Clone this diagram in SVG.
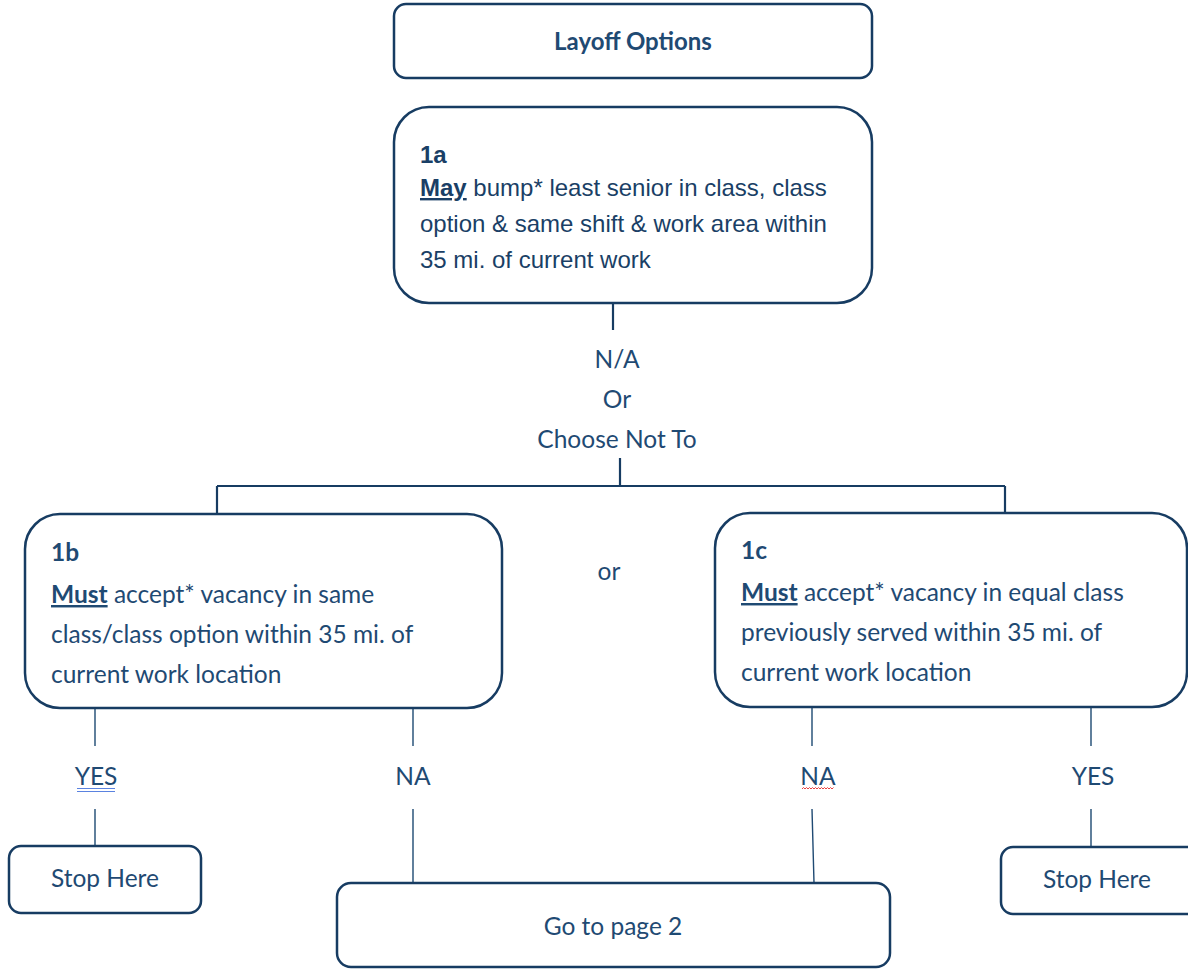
<svg xmlns="http://www.w3.org/2000/svg" width="1188" height="969" viewBox="0 0 1188 969">
<style>
.box{fill:#fff;stroke:#173c62;stroke-width:2.5}
.c{fill:none;stroke:#173c62;stroke-width:2.2}
.t{fill:none;stroke:#1f4a73;stroke-width:1.4}
.cal{font-family:Lato,"Open Sans",sans-serif;font-size:24.5px;fill:#1f4a73}
.ar{font-family:"Liberation Sans",Arial,sans-serif;font-size:24px;fill:#1a3f66}
.b{font-weight:bold}
.u{text-decoration:underline}
.m{text-anchor:middle}
</style>
<rect width="1188" height="969" fill="#fff"/>
<g id="connectors">
<path class="c" d="M613 303V330"/>
<path class="c" d="M620 458V486M217 486H1005M217 486V514M1005 486V514"/>
<path class="t" d="M95 708V746M95 809V846"/>
<path class="t" d="M413 708V746M413 809V883"/>
<path class="t" d="M812 707V746M812 809L814 883"/>
<path class="t" d="M1091 707V746M1091 809V847"/>
</g>
<g id="labels">
<text class="cal m" x="617" y="368">N/A</text>
<text class="cal m" x="617" y="408">Or</text>
<text class="cal m" x="617" y="448">Choose Not To</text>
<text class="cal m" x="609" y="580">or</text>
<text class="cal m" x="96" y="785">YES</text>
<path d="M77 788.5H115M77 791.5H115" stroke="#5a82e0" stroke-width="1" fill="none"/>
<text class="cal m" x="413" y="785">NA</text>
<text class="cal m" x="818" y="785">NA</text>
<path d="M802 789l1.5 -1.5l1.5 1.5l1.5 -1.5l1.5 1.5l1.5 -1.5l1.5 1.5l1.5 -1.5l1.5 1.5l1.5 -1.5l1.5 1.5l1.5 -1.5l1.5 1.5l1.5 -1.5l1.5 1.5l1.5 -1.5l1.5 1.5l1.5 -1.5l1.5 1.5l1.5 -1.5l1.5 1.5l1.5 -1.5" stroke="#e84040" stroke-width="1" fill="none"/>
<text class="cal m" x="1093" y="785">YES</text>
</g>
<g id="title">
<rect class="box" x="394" y="4" width="478" height="74" rx="12"/>
<text class="cal b m" x="633" y="50" style="font-size:24px">Layoff Options</text>
</g>
<g id="n1a">
<rect class="box" x="394" y="107" width="478" height="196" rx="35"/>
<text class="ar b" x="420" y="163">1a</text>
<text class="ar" x="420" y="196"><tspan class="b u">May</tspan> bump* least senior in class, class</text>
<text class="ar" x="420" y="232">option &amp; same shift &amp; work area within</text>
<text class="ar" x="420" y="268">35 mi. of current work</text>
</g>
<g id="n1b">
<rect class="box" x="25" y="514" width="477" height="194" rx="35"/>
<text class="cal b" x="51" y="561">1b</text>
<text class="cal" x="51" y="603"><tspan class="b u">Must</tspan> accept* vacancy in same</text>
<text class="cal" x="51" y="643">class/class option within 35 mi. of</text>
<text class="cal" x="51" y="683">current work location</text>
</g>
<g id="n1c">
<rect class="box" x="715" y="513" width="472" height="194" rx="35"/>
<text class="cal b" x="741" y="559">1c</text>
<text class="cal" x="741" y="601"><tspan class="b u">Must</tspan> accept* vacancy in equal class</text>
<text class="cal" x="741" y="641">previously served within 35 mi. of</text>
<text class="cal" x="741" y="681">current work location</text>
</g>
<g id="stop1">
<rect class="box" x="9" y="846" width="192" height="67" rx="12"/>
<text class="cal m" x="105" y="887">Stop Here</text>
</g>
<g id="page2">
<rect class="box" x="337" y="883" width="553" height="84" rx="14"/>
<text class="cal m" x="613" y="935">Go to page 2</text>
</g>
<g id="stop2">
<rect class="box" x="1001" y="847" width="200" height="67" rx="12"/>
<text class="cal m" x="1097" y="888">Stop Here</text>
</g>
</svg>
